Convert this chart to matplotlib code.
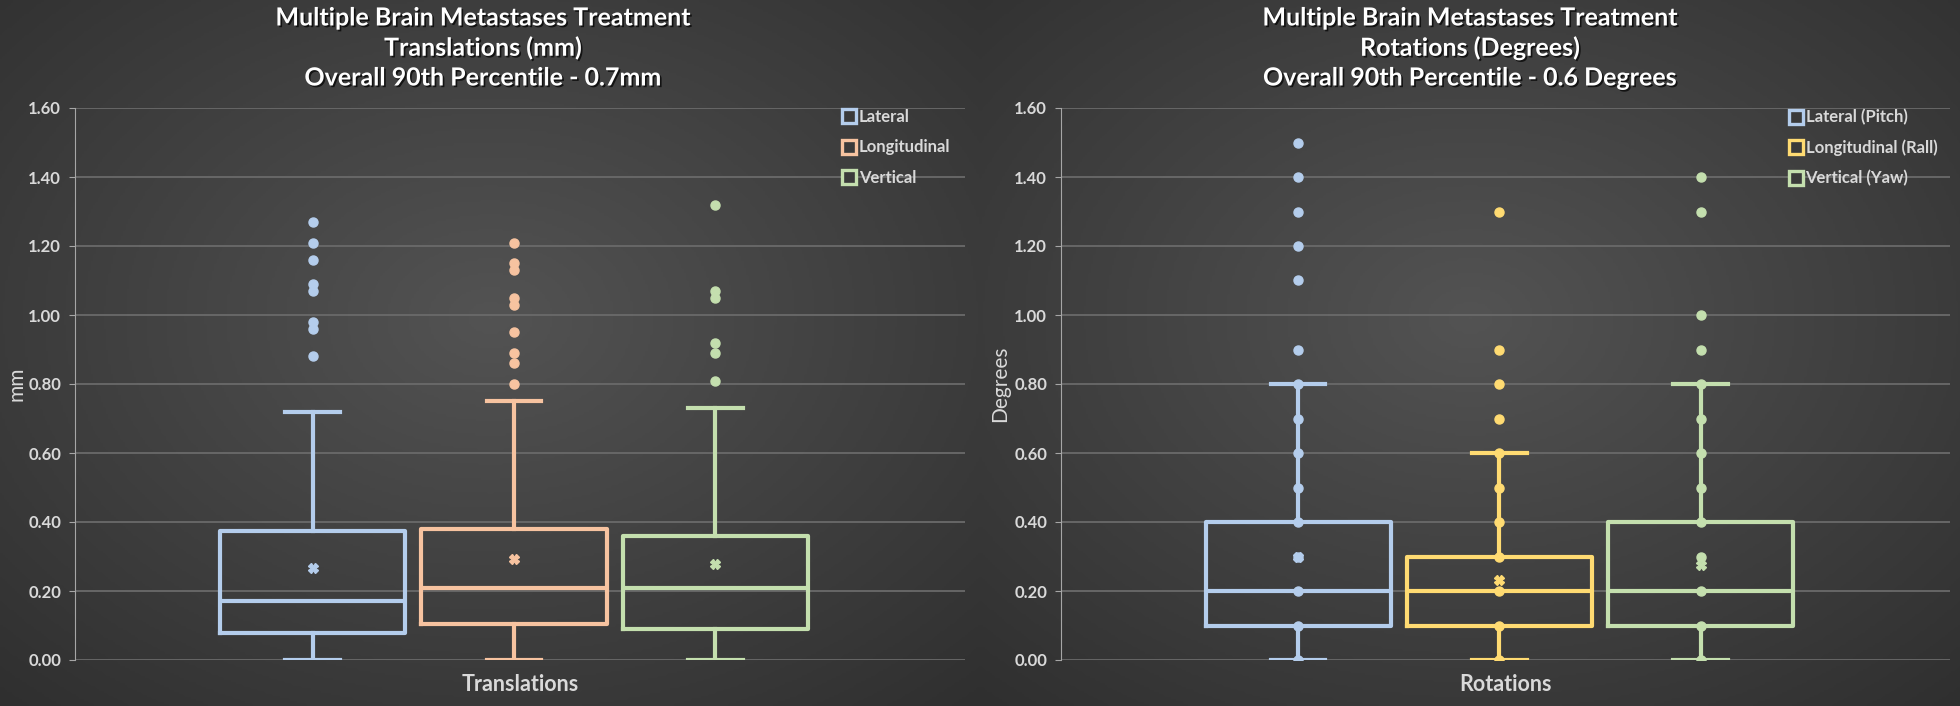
import numpy as np
import matplotlib
matplotlib.use("Agg")
from matplotlib import pyplot as plt
from matplotlib.lines import Line2D
from matplotlib.colors import LinearSegmentedColormap
import matplotlib.patheffects as pe

plt.rcParams['font.family'] = ['Lato', 'DejaVu Sans']

# Translations (mm)
trans_labels = ['Lateral', 'Longitudinal', 'Vertical']
trans_colors = ['#b4cdec', '#f7c3a0', '#c4dfae']
trans_min = [0.0, 0.0, 0.0]
trans_q1 = [0.079, 0.104, 0.091]
trans_med = [0.170, 0.208, 0.208]
trans_q3 = [0.375, 0.381, 0.360]
trans_max = [0.720, 0.751, 0.730]
trans_mean = [0.267, 0.292, 0.277]
trans_out = [[1.27, 1.21, 1.16, 1.09, 1.07, 0.98, 0.96, 0.88],
             [1.21, 1.15, 1.13, 1.05, 1.03, 0.95, 0.89, 0.86, 0.80],
             [1.32, 1.07, 1.05, 0.92, 0.89, 0.81]]

# Rotations (degrees)
rot_labels = ['Lateral (Pitch)', 'Longitudinal (Rall)', 'Vertical (Yaw)']
rot_colors = ['#b4cdec', '#ffdb72', '#c4dfae']
rot_min = [0.0, 0.0, 0.0]
rot_q1 = [0.10, 0.10, 0.10]
rot_med = [0.20, 0.20, 0.20]
rot_q3 = [0.40, 0.30, 0.40]
rot_max = [0.80, 0.60, 0.80]
rot_mean = [0.30, 0.233, 0.275]
rot_out = [[1.50, 1.40, 1.30, 1.20, 1.10, 0.90],
           [1.30, 0.90, 0.80, 0.70],
           [1.40, 1.30, 1.00, 0.90]]
rot_inner = [[0.0, 0.1, 0.2, 0.3, 0.4, 0.5, 0.6, 0.7, 0.8],
             [0.0, 0.1, 0.2, 0.3, 0.4, 0.5, 0.6],
             [0.0, 0.1, 0.2, 0.3, 0.4, 0.5, 0.6, 0.7, 0.8]]

yticks = [0.0, 0.2, 0.4, 0.6, 0.8, 1.0, 1.2, 1.4, 1.6]
txt = '#d9d9d9'
shadow = [pe.withSimplePatchShadow(offset=(1.2, -1.2), shadow_rgbFace='black', alpha=0.7)]

fig = plt.figure(figsize=(19.6, 7.06), dpi=100)

# radial dark background, one per half
bg_cmap = LinearSegmentedColormap.from_list('bg', ['#535353', '#2a2a2a'])
yy, xx = np.mgrid[-1:1:300j, -1:1:400j]
r = np.sqrt(xx**2 + (yy + 0.1)**2)
for x0 in [0, 0.5]:
    bg = fig.add_axes([x0, 0, 0.5, 1], zorder=-5)
    bg.imshow(r, cmap=bg_cmap, vmin=0, vmax=1.7, aspect='auto',
              extent=[0, 1, 0, 1])
    bg.set_axis_off()


def panel(rect, labels, colors, mins, q1, med, q3, maxs, means, outs,
          titles, title_x, xlabel, ylabel, ylabel_x, leg_x, inner=None):
    ax = fig.add_axes(rect)
    ax.patch.set_alpha(0)
    pos = [1, 2, 3]
    for i in range(3):
        st = [dict(whislo=mins[i], q1=q1[i], med=med[i], q3=q3[i],
                   whishi=maxs[i], mean=means[i], fliers=outs[i])]
        c = colors[i]
        ax.bxp(st, positions=[pos[i]], widths=0.92, capwidths=0.27,
               showmeans=True, patch_artist=False,
               boxprops=dict(color=c, lw=3),
               medianprops=dict(color=c, lw=3),
               whiskerprops=dict(color=c, lw=3),
               capprops=dict(color=c, lw=3),
               meanprops=dict(marker='X', markerfacecolor=c, markeredgecolor=c,
                              markersize=7),
               flierprops=dict(marker='o', markerfacecolor=c, markeredgecolor=c,
                               markersize=6.5))
        if inner is not None:
            ax.plot([pos[i]] * len(inner[i]), inner[i], 'o', color=c,
                    markersize=6.5, zorder=4)
    ax.set_xlim(-0.18, 4.24)
    ax.set_ylim(0, 1.6)
    ax.set_yticks(yticks)
    ax.set_yticklabels(['%.2f' % v for v in yticks], fontsize=12,
                       fontweight='bold', color=txt)
    ax.set_xticks([])
    ax.yaxis.grid(True, color='#6a6a6a', lw=1.3)
    ax.set_axisbelow(True)
    for s in ['top', 'right', 'bottom']:
        ax.spines[s].set_visible(False)
    ax.spines['left'].set_color('#a6a6a6')
    ax.tick_params(axis='y', colors='#a6a6a6', labelcolor=txt, length=4, pad=6)
    ax.set_xlabel(xlabel, fontsize=15.5, fontweight='bold', color=txt, labelpad=10)
    ax.set_ylabel(ylabel, fontsize=15, color=txt, va='center')
    ax.yaxis.set_label_coords(ylabel_x, 0.5)
    handles = [Line2D([], [], marker='s', ls='none', markersize=10,
                      markerfacecolor='#3a3a3a', markeredgecolor=c,
                      markeredgewidth=2.4) for c in colors]
    leg = ax.legend(handles, labels, loc='upper left',
                    bbox_to_anchor=(leg_x, 1.025), frameon=False,
                    handletextpad=0.1, labelspacing=0.85, handlelength=1.0,
                    prop=dict(size=12, weight='bold'))
    for t in leg.get_texts():
        t.set_color(txt)
    for k, t in enumerate(titles):
        fig.text(title_x, 1 - (18 + 30 * k) / 706, t, ha='center', va='center',
                 fontsize=18, fontweight='bold', color='white',
                 path_effects=shadow)
    return ax


bot = 1 - 660 / 706
h = (660 - 108) / 706
panel([75 / 1960, bot, 890 / 1960, h], trans_labels, trans_colors,
      trans_min, trans_q1, trans_med, trans_q3, trans_max, trans_mean, trans_out,
      ['Multiple Brain Metastases Treatment', 'Translations (mm)',
       'Overall 90th Percentile - 0.7mm'], 483 / 1960,
      'Translations', 'mm', -0.066, 0.843)
panel([1061 / 1960, bot, 889 / 1960, h], rot_labels, rot_colors,
      rot_min, rot_q1, rot_med, rot_q3, rot_max, rot_mean, rot_out,
      ['Multiple Brain Metastases Treatment', 'Rotations (Degrees)',
       'Overall 90th Percentile - 0.6 Degrees'], 1470 / 1960,
      'Rotations', 'Degrees', -0.069, 0.80, inner=rot_inner)

fig.savefig('out.png', dpi=100)
